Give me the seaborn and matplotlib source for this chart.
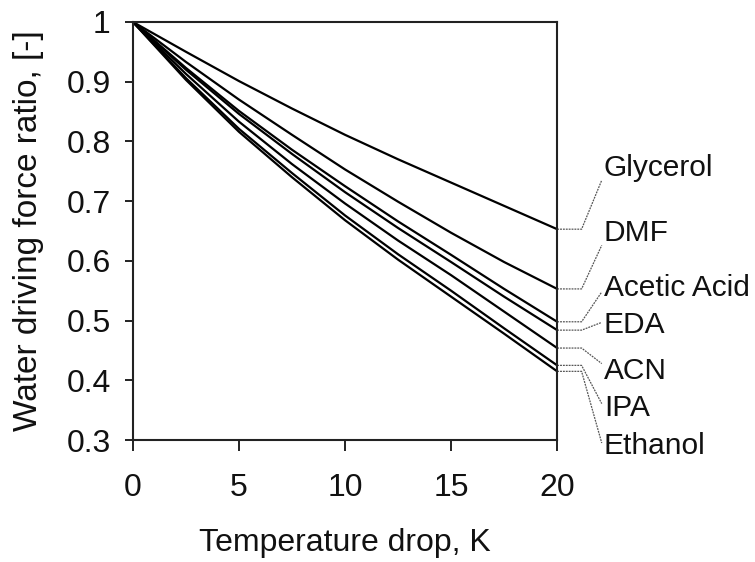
import seaborn as sns
import matplotlib
matplotlib.use('Agg')
import matplotlib.pyplot as plt
import pandas as pd

# temperature drop, K
temp_drop = [0, 2.5, 5, 7.5, 10, 12.5, 15, 17.5, 20]

# water driving force ratio
glycerol = [1.0, 0.950, 0.901, 0.855, 0.811, 0.770, 0.731, 0.692, 0.653]
dmf = [1.0, 0.933, 0.870, 0.811, 0.753, 0.699, 0.647, 0.598, 0.553]
acetic_acid = [1.0, 0.923, 0.851, 0.786, 0.725, 0.666, 0.610, 0.553, 0.498]
eda = [1.0, 0.920, 0.846, 0.779, 0.715, 0.655, 0.598, 0.540, 0.484]
acn = [1.0, 0.913, 0.833, 0.762, 0.696, 0.634, 0.576, 0.515, 0.454]
ipa = [1.0, 0.906, 0.821, 0.747, 0.676, 0.611, 0.550, 0.487, 0.425]
ethanol = [1.0, 0.903, 0.816, 0.740, 0.668, 0.602, 0.540, 0.478, 0.415]

solvents = ['Glycerol', 'DMF', 'Acetic Acid', 'EDA', 'ACN', 'IPA', 'Ethanol']
series = [glycerol, dmf, acetic_acid, eda, acn, ipa, ethanol]

# where the names sit on the right (y in data units)
label_y = [0.755, 0.646, 0.555, 0.492, 0.416, 0.354, 0.290]
leader_y = [0.735, 0.626, 0.548, 0.497, 0.428, 0.361, 0.295]

rows = []
for name, vals in zip(solvents, series):
    for t, v in zip(temp_drop, vals):
        rows.append({'dT': t, 'ratio': v, 'solvent': name})
df = pd.DataFrame(rows)

sns.set_style('ticks')
plt.rcParams['font.family'] = ['Liberation Sans', 'DejaVu Sans']

fig = plt.figure(figsize=(7.55, 5.62), dpi=100)
ax = fig.add_axes([0.176, 0.217, 0.562, 0.744])

sns.lineplot(data=df, x='dT', y='ratio', hue='solvent', hue_order=solvents,
             palette=['black'] * len(solvents), linewidth=1.6, legend=False, ax=ax)

ax.set_xlim(0, 20)
ax.set_ylim(0.3, 1.0)
ax.set_xticks([0, 5, 10, 15, 20])
ax.set_yticks([0.3, 0.4, 0.5, 0.6, 0.7, 0.8, 0.9, 1.0])
ax.set_yticklabels(['0.3', '0.4', '0.5', '0.6', '0.7', '0.8', '0.9', '1'])

for side in ['top', 'right', 'left', 'bottom']:
    ax.spines[side].set_visible(True)
    ax.spines[side].set_color('#222222')
    ax.spines[side].set_linewidth(1.5)

ax.tick_params(axis='y', direction='out', length=6, width=1.3, pad=10,
               labelsize=23, colors='#111111')
ax.tick_params(axis='x', direction='out', length=8, width=1.3, pad=16,
               labelsize=23, colors='#111111')

ax.set_xlabel('Temperature drop, K', fontsize=23, labelpad=18, color='#111111')
ax.set_ylabel('Water driving force ratio, [-]', fontsize=24, labelpad=16, color='#111111')

# leader lines and names on the right
for name, vals, ly, ey in zip(solvents, series, label_y, leader_y):
    y_end = vals[-1]
    ax.plot([20, 21.15, 22.1], [y_end, y_end, ey], color='#555555',
            linewidth=0.9, linestyle=(0, (1.5, 0.8)), clip_on=False)
    ax.text(22.2, ly, name, fontsize=21.5, color='#111111',
            va='center', ha='left', clip_on=False)

fig.savefig('out.png', dpi=100)
